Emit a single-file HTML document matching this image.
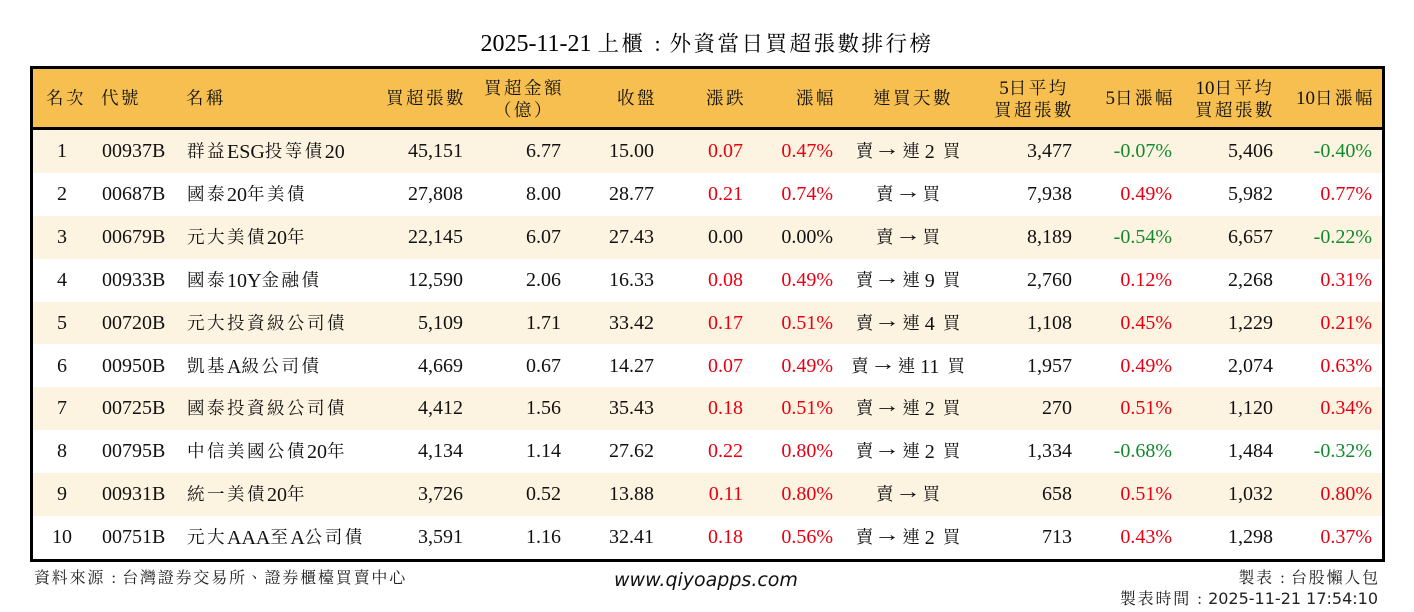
<!DOCTYPE html>
<html><head><meta charset="utf-8">
<style>
*{margin:0;padding:0;box-sizing:border-box}
body{width:1414px;height:612px;background:#fff;position:relative;overflow:hidden;font-family:"Liberation Serif","Noto Serif CJK SC",serif;color:#111}
.k{font-family:"Noto Serif CJK TC","Noto Serif CJK SC","Noto Serif CJK JP","Noto Serif CJK","Noto Sans CJK TC",serif;font-size:17.5px;letter-spacing:2.5px;position:relative;top:-1px}
.cl{display:inline-block;text-align:center;font-family:"Liberation Serif",serif}
#title{position:absolute;top:28px;left:0;width:1414px;text-align:center;font-size:24px;line-height:30px;color:#000}
#title .k{font-size:21.5px;letter-spacing:2.5px;top:0}
#title .cl{width:24px;font-size:22px}
.hdr{position:absolute;left:33px;top:69px;width:1349px;height:58px;background:#F6BF50}
.hl{position:absolute;left:33px;top:127px;width:1349px;height:3px;background:#000}
.box{position:absolute;left:30px;top:66px;width:1355px;height:496px;border:3px solid #000}
.tb{position:absolute;left:33px;width:1349px;height:42.9px;background:#FDF3E1}
.h{position:absolute;top:69px;height:58px;line-height:58px;font-size:19px;white-space:nowrap;color:#111}
.h .k{top:0}
.h2{line-height:21px;padding-top:8px}
.row{position:absolute;left:0;width:1414px;height:42.9px;line-height:43px;font-size:20px}
.row div{position:absolute;top:0;white-space:nowrap}
.c1{left:12px;width:100px;text-align:center}
.c2{left:102px}
.c3{left:187px}
.c4{left:263px;width:200px;text-align:right}
.c5{left:361px;width:200px;text-align:right}
.c6{left:454px;width:200px;text-align:right}
.c7{left:543px;width:200px;text-align:right}
.c8{left:633px;width:200px;text-align:right}
.c9{left:758px;width:300px;text-align:center}
.c9 .k{letter-spacing:0}
.ar{display:inline-block;font-family:"Liberation Serif",serif;font-size:20px;transform:scaleX(1.3);margin:0 5px 0 4px;position:relative;top:-3px}
.c9 .b{margin-left:3px}
.c10{left:872px;width:200px;text-align:right}
.c11{left:972px;width:200px;text-align:right}
.c12{left:1073px;width:200px;text-align:right}
.c13{left:1172px;width:200px;text-align:right}
.r{color:#E60012}
.g{color:#138A2E}
.ft{position:absolute;font-family:"Noto Serif CJK TC","Noto Serif CJK SC","Noto Serif CJK JP",serif;font-size:16px;letter-spacing:1.8px;line-height:22px;color:#222;white-space:nowrap}
.ft .cl{width:17px;font-size:16px;letter-spacing:0}
.web{position:absolute;left:614px;top:568px;font-family:"DejaVu Sans",sans-serif;font-style:italic;font-size:19px;line-height:24px;color:#111}
.dv{font-family:"DejaVu Sans",sans-serif;font-size:16px;letter-spacing:0}
</style></head><body>

<div id="title">2025-11-21 <span class="k">上櫃</span><span class="cl">:</span><span class="k">外資當日買超張數排行榜</span></div>

<div class="hdr"></div>
<div class="tb" style="top:130px"></div>
<div class="tb" style="top:215.8px"></div>
<div class="tb" style="top:301.6px"></div>
<div class="tb" style="top:387.4px"></div>
<div class="tb" style="top:473.2px"></div>
<div class="hl"></div>
<div class="box"></div>

<div class="h" style="left:16px;width:100px;text-align:center"><span class="k">名次</span></div>
<div class="h" style="left:101px"><span class="k">代號</span></div>
<div class="h" style="left:186px"><span class="k">名稱</span></div>
<div class="h" style="left:266px;width:200px;text-align:right"><span class="k">買超張數</span></div>
<div class="h h2" style="left:424px;width:200px;text-align:center"><span class="k">買超金額</span><br><span class="k">（億）</span></div>
<div class="h" style="left:457px;width:200px;text-align:right"><span class="k">收盤</span></div>
<div class="h" style="left:546px;width:200px;text-align:right"><span class="k">漲跌</span></div>
<div class="h" style="left:636px;width:200px;text-align:right"><span class="k">漲幅</span></div>
<div class="h" style="left:813px;width:200px;text-align:center"><span class="k">連買天數</span></div>
<div class="h h2" style="left:934px;width:200px;text-align:center">5<span class="k">日平均</span><br><span class="k">買超張數</span></div>
<div class="h" style="left:975px;width:200px;text-align:right">5<span class="k">日漲幅</span></div>
<div class="h h2" style="left:1135px;width:200px;text-align:center">10<span class="k">日平均</span><br><span class="k">買超張數</span></div>
<div class="h" style="left:1175px;width:200px;text-align:right">10<span class="k">日漲幅</span></div>

<div class="row" style="top:130px">
<div class="c1">1</div><div class="c2">00937B</div><div class="c3"><span class="k">群益</span>ESG<span class="k">投等債</span>20</div>
<div class="c4">45,151</div><div class="c5">6.77</div><div class="c6">15.00</div><div class="c7 r">0.07</div><div class="c8 r">0.47%</div>
<div class="c9"><span class="k">賣</span><span class="ar">→</span><span class="k">連</span> 2 <span class="k b">買</span></div>
<div class="c10">3,477</div><div class="c11 g">-0.07%</div><div class="c12">5,406</div><div class="c13 g">-0.40%</div>
</div>

<div class="row" style="top:172.9px">
<div class="c1">2</div><div class="c2">00687B</div><div class="c3"><span class="k">國泰</span>20<span class="k">年美債</span></div>
<div class="c4">27,808</div><div class="c5">8.00</div><div class="c6">28.77</div><div class="c7 r">0.21</div><div class="c8 r">0.74%</div>
<div class="c9"><span class="k">賣</span><span class="ar">→</span><span class="k">買</span></div>
<div class="c10">7,938</div><div class="c11 r">0.49%</div><div class="c12">5,982</div><div class="c13 r">0.77%</div>
</div>

<div class="row" style="top:215.8px">
<div class="c1">3</div><div class="c2">00679B</div><div class="c3"><span class="k">元大美債</span>20<span class="k">年</span></div>
<div class="c4">22,145</div><div class="c5">6.07</div><div class="c6">27.43</div><div class="c7">0.00</div><div class="c8">0.00%</div>
<div class="c9"><span class="k">賣</span><span class="ar">→</span><span class="k">買</span></div>
<div class="c10">8,189</div><div class="c11 g">-0.54%</div><div class="c12">6,657</div><div class="c13 g">-0.22%</div>
</div>

<div class="row" style="top:258.7px">
<div class="c1">4</div><div class="c2">00933B</div><div class="c3"><span class="k">國泰</span>10Y<span class="k">金融債</span></div>
<div class="c4">12,590</div><div class="c5">2.06</div><div class="c6">16.33</div><div class="c7 r">0.08</div><div class="c8 r">0.49%</div>
<div class="c9"><span class="k">賣</span><span class="ar">→</span><span class="k">連</span> 9 <span class="k b">買</span></div>
<div class="c10">2,760</div><div class="c11 r">0.12%</div><div class="c12">2,268</div><div class="c13 r">0.31%</div>
</div>

<div class="row" style="top:301.6px">
<div class="c1">5</div><div class="c2">00720B</div><div class="c3"><span class="k">元大投資級公司債</span></div>
<div class="c4">5,109</div><div class="c5">1.71</div><div class="c6">33.42</div><div class="c7 r">0.17</div><div class="c8 r">0.51%</div>
<div class="c9"><span class="k">賣</span><span class="ar">→</span><span class="k">連</span> 4 <span class="k b">買</span></div>
<div class="c10">1,108</div><div class="c11 r">0.45%</div><div class="c12">1,229</div><div class="c13 r">0.21%</div>
</div>

<div class="row" style="top:344.5px">
<div class="c1">6</div><div class="c2">00950B</div><div class="c3"><span class="k">凱基</span>A<span class="k">級公司債</span></div>
<div class="c4">4,669</div><div class="c5">0.67</div><div class="c6">14.27</div><div class="c7 r">0.07</div><div class="c8 r">0.49%</div>
<div class="c9"><span class="k">賣</span><span class="ar">→</span><span class="k">連</span> 11 <span class="k b">買</span></div>
<div class="c10">1,957</div><div class="c11 r">0.49%</div><div class="c12">2,074</div><div class="c13 r">0.63%</div>
</div>

<div class="row" style="top:387.4px">
<div class="c1">7</div><div class="c2">00725B</div><div class="c3"><span class="k">國泰投資級公司債</span></div>
<div class="c4">4,412</div><div class="c5">1.56</div><div class="c6">35.43</div><div class="c7 r">0.18</div><div class="c8 r">0.51%</div>
<div class="c9"><span class="k">賣</span><span class="ar">→</span><span class="k">連</span> 2 <span class="k b">買</span></div>
<div class="c10">270</div><div class="c11 r">0.51%</div><div class="c12">1,120</div><div class="c13 r">0.34%</div>
</div>

<div class="row" style="top:430.3px">
<div class="c1">8</div><div class="c2">00795B</div><div class="c3"><span class="k">中信美國公債</span>20<span class="k">年</span></div>
<div class="c4">4,134</div><div class="c5">1.14</div><div class="c6">27.62</div><div class="c7 r">0.22</div><div class="c8 r">0.80%</div>
<div class="c9"><span class="k">賣</span><span class="ar">→</span><span class="k">連</span> 2 <span class="k b">買</span></div>
<div class="c10">1,334</div><div class="c11 g">-0.68%</div><div class="c12">1,484</div><div class="c13 g">-0.32%</div>
</div>

<div class="row" style="top:473.2px">
<div class="c1">9</div><div class="c2">00931B</div><div class="c3"><span class="k">統一美債</span>20<span class="k">年</span></div>
<div class="c4">3,726</div><div class="c5">0.52</div><div class="c6">13.88</div><div class="c7 r">0.11</div><div class="c8 r">0.80%</div>
<div class="c9"><span class="k">賣</span><span class="ar">→</span><span class="k">買</span></div>
<div class="c10">658</div><div class="c11 r">0.51%</div><div class="c12">1,032</div><div class="c13 r">0.80%</div>
</div>

<div class="row" style="top:516.1px">
<div class="c1">10</div><div class="c2">00751B</div><div class="c3"><span class="k">元大</span>AAA<span class="k">至</span>A<span class="k">公司債</span></div>
<div class="c4">3,591</div><div class="c5">1.16</div><div class="c6">32.41</div><div class="c7 r">0.18</div><div class="c8 r">0.56%</div>
<div class="c9"><span class="k">賣</span><span class="ar">→</span><span class="k">連</span> 2 <span class="k b">買</span></div>
<div class="c10">713</div><div class="c11 r">0.43%</div><div class="c12">1,298</div><div class="c13 r">0.37%</div>
</div>

<div class="ft" style="left:34px;top:566px">資料來源<span class="cl">:</span>台灣證券交易所、證券櫃檯買賣中心</div>
<div class="web">www.qiyoapps.com</div>
<div class="ft" style="right:34px;top:566px;text-align:right">製表<span class="cl">:</span>台股懶人包</div>
<div class="ft" style="right:36px;top:587px;text-align:right">製表時間<span class="cl">:</span><span class="dv">2025-11-21 17:54:10</span></div>

</body></html>
